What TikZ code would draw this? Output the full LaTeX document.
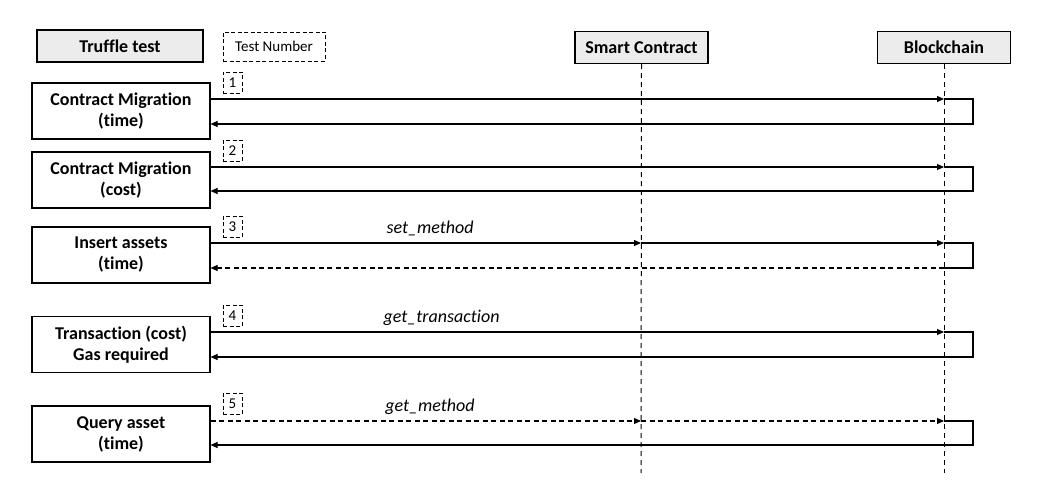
\documentclass[tikz,border=0pt]{standalone}
\usepackage{fontspec}
\setmainfont{Carlito}[Ligatures=NoCommon]
\usetikzlibrary{arrows.meta}

\begin{document}
\begin{tikzpicture}[x=1pt,y=-1pt,
    head/.style={draw,line width=1.1pt,fill=gray!15,minimum width=166pt,minimum height=32pt,font=\bfseries\fontsize{18}{20}\selectfont},
    test/.style={draw,line width=1.1pt,minimum width=178pt,minimum height=56pt,align=center,font=\bfseries\fontsize{18}{21}\selectfont},
    num/.style={draw,line width=0.9pt,dash pattern=on 4pt off 2.5pt,inner sep=1pt,minimum width=19pt,minimum height=21pt,font=\fontsize{15}{17}\selectfont},
    msg/.style={line width=1.1pt,-{Triangle[length=7pt,width=6pt]}},
    dsh/.style={dash pattern=on 5pt off 3.5pt},
    life/.style={line width=1pt,dash pattern=on 5pt off 4pt},
    lbl/.style={font=\itshape\fontsize{18}{20}\selectfont,above=3pt}]
  \useasboundingbox (0,0) rectangle (1059,492);
  % headers
  \node[head] (truffle) at (120,46) {Truffle test};
  \node[num,minimum width=102pt,minimum height=29pt] (testnum) at (274,46.5) {Test Number};
  \node[head,minimum width=133pt] (sc) at (641.5,47.5) {Smart Contract};
  \node[head,minimum width=133pt] (bc) at (944,47.5) {Blockchain};
  \coordinate (scend) at (641,473);
  \coordinate (bcend) at (944,473);
  \draw[life] (sc.south) -- (scend);
  \draw[life] (bc.south) -- (bcend);
  % tests
  \node[test] (t1) at (121,111) {Contract Migration\\(time)};
  \node[test] (t2) at (121,180) {Contract Migration\\(cost)};
  \node[test] (t3) at (121,255) {Insert assets\\(time)};
  \node[test] (t4) at (121,344.5) {Transaction (cost)\\Gas required};
  \node[test] (t5) at (121,434) {Query asset\\(time)};
  \node[num] (n1) at (232.5,82.5) {1};
  \node[num] (n2) at (232.5,150.5) {2};
  \node[num] (n3) at (232.5,226.5) {3};
  \node[num] (n4) at (232.5,315.5) {4};
  \node[num] (n5) at (232.5,403.5) {5};
  % points on the lifelines
  \coordinate (b1) at (944,99);  \coordinate (r1) at (973,124);
  \coordinate (b2) at (944,167); \coordinate (r2) at (973,191);
  \coordinate (s3) at (641,243); \coordinate (b3) at (944,243); \coordinate (r3) at (973,268);
  \coordinate (b4) at (944,332); \coordinate (r4) at (973,357);
  \coordinate (s5) at (641,421); \coordinate (b5) at (944,421); \coordinate (r5) at (973,445);
  % 1
  \draw[msg] (t1.east |- b1) -- (b1);
  \draw[msg] (b1) -| (r1) -- (t1.east |- r1);
  % 2
  \draw[msg] (t2.east |- b2) -- (b2);
  \draw[msg] (b2) -| (r2) -- (t2.east |- r2);
  % 3
  \draw[msg] (t3.east |- s3) -- node[lbl,pos=0.51] {set\_method} (s3);
  \draw[msg] (s3) -- (b3);
  \draw[line width=1.1pt] (b3) -| (r3) -- (b3 |- r3);
  \draw[msg,dsh] (b3 |- r3) -- (t3.east |- r3);
  % 4
  \draw[msg] (t4.east |- b4) -- node[lbl,pos=0.315] {get\_transaction} (b4);
  \draw[msg] (b4) -| (r4) -- (t4.east |- r4);
  % 5
  \draw[msg,dsh] (t5.east |- s5) -- node[lbl,pos=0.51] {get\_method} (s5);
  \draw[msg,dsh] (s5) -- (b5);
  \draw[msg] (b5) -| (r5) -- (t5.east |- r5);
\end{tikzpicture}
\end{document}
